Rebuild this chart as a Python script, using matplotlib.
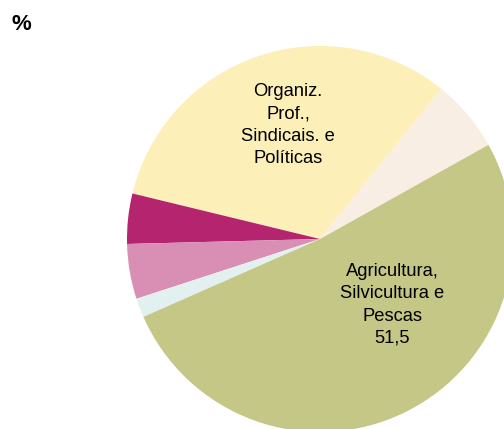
import matplotlib.pyplot as plt

# Data (share, %), drawn counterclockwise starting at the upper right
labels = ['Outros', 'Organiz. Prof., Sindicais. e Políticas', 'Cat. A', 'Cat. B', 'Cat. C',
          'Agricultura, Silvicultura e Pescas']
values = [6.1, 32.0, 4.2, 4.6, 1.6, 51.5]
colors = ['#F8EEE4', '#FCEFB8', '#B5246E', '#D98EB4', '#E3F0F0', '#C4C785']

plt.rcParams['font.family'] = ['Liberation Sans', 'DejaVu Sans']

W, H = 504, 429
fig = plt.figure(figsize=(W / 100, H / 100), dpi=100)
ax = fig.add_axes([0, 0, 1, 1])

# pie in pixel-like data coords
cx, cy, r = 320, H - 239, 193
ax.pie(values, colors=colors, startangle=29.2, counterclock=True,
       center=(cx, cy), radius=r, wedgeprops=dict(linewidth=0))
ax.set_xlim(0, W)
ax.set_ylim(0, H)
ax.set_aspect('equal')
ax.axis('off')

ax.text(288, H - 125, 'Organiz.\nProf.,\nSindicais. e\nPolíticas', ha='center', va='center',
        multialignment='center', fontsize=13.2, linespacing=1.4)
ax.text(392, H - 305, 'Agricultura,\nSilvicultura e\nPescas\n' + str(values[-1]).replace('.', ','),
        ha='center', va='center', multialignment='center', fontsize=13.2, linespacing=1.4)

fig.text(12 / W, 1 - 24 / H, '%', ha='left', va='center', fontsize=16, fontweight='bold')

fig.savefig('out.png', dpi=100)
